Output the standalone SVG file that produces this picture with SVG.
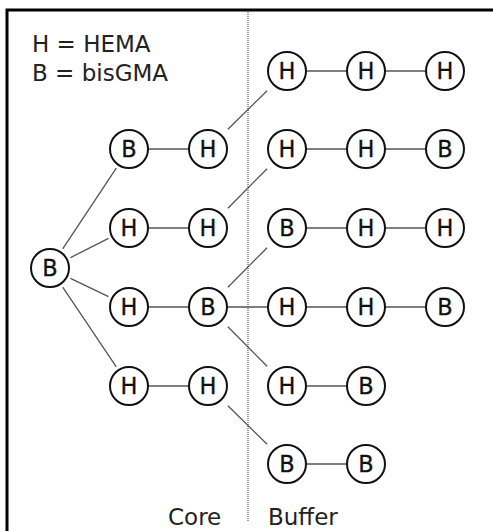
<svg xmlns="http://www.w3.org/2000/svg" width="493" height="531" viewBox="0 0 493 531">
<style>
.n circle{fill:#fff;stroke:#111;stroke-width:2}
.n text{font-family:"DejaVu Sans",sans-serif;font-size:22.5px;fill:#111;text-anchor:middle;stroke:#111;stroke-width:0.3}
.c line{stroke:#555;stroke-width:1.3}
.t{font-family:"DejaVu Sans",sans-serif;font-size:23px;fill:#222}
</style>
<rect width="493" height="531" fill="#fff"/>
<path d="M7,531 V10 H493" fill="none" stroke="#000" stroke-width="3"/>
<line x1="248" y1="12" x2="248" y2="522" stroke="#999" stroke-width="2" stroke-dasharray="1,1"/>
<text class="t" x="32" y="52">H = HEMA</text>
<text class="t" x="32" y="81">B = bisGMA</text>
<text class="t" x="168" y="525">Core</text>
<text class="t" x="268" y="525">Buffer</text>
<g id="connectors" class="c">
<line x1="62.7" y1="248.8" x2="116.3" y2="168.2"/>
<line x1="70.5" y1="257.6" x2="108.5" y2="238.4"/>
<line x1="70.5" y1="278.4" x2="108.5" y2="296.6"/>
<line x1="62.7" y1="287.2" x2="116.3" y2="366.8"/>
<line x1="148" y1="149" x2="189" y2="149"/>
<line x1="148" y1="228" x2="189" y2="228"/>
<line x1="148" y1="307" x2="189" y2="307"/>
<line x1="148" y1="386" x2="189" y2="386"/>
<line x1="227.9" y1="129.3" x2="267.1" y2="90.7"/>
<line x1="227.9" y1="208.3" x2="267.1" y2="168.7"/>
<line x1="227.9" y1="287.3" x2="267.1" y2="247.7"/>
<line x1="227" y1="307" x2="268" y2="307"/>
<line x1="227.9" y1="326.7" x2="267.1" y2="366.3"/>
<line x1="227.9" y1="405.7" x2="267.1" y2="444.3"/>
<line x1="306" y1="71" x2="347" y2="71"/>
<line x1="385" y1="71" x2="426" y2="71"/>
<line x1="306" y1="149" x2="347" y2="149"/>
<line x1="385" y1="149" x2="426" y2="149"/>
<line x1="306" y1="228" x2="347" y2="228"/>
<line x1="385" y1="228" x2="426" y2="228"/>
<line x1="306" y1="307" x2="347" y2="307"/>
<line x1="385" y1="307" x2="426" y2="307"/>
<line x1="306" y1="386" x2="347" y2="386"/>
<line x1="306" y1="464" x2="347" y2="464"/>
</g>
<g id="n0" class="n"><circle cx="50" cy="268" r="19"/><text x="50" y="276">B</text></g>
<g id="n1" class="n"><circle cx="129" cy="149" r="19"/><text x="129" y="157">B</text></g>
<g id="n2" class="n"><circle cx="129" cy="228" r="19"/><text x="129" y="236">H</text></g>
<g id="n3" class="n"><circle cx="129" cy="307" r="19"/><text x="129" y="315">H</text></g>
<g id="n4" class="n"><circle cx="129" cy="386" r="19"/><text x="129" y="394">H</text></g>
<g id="n5" class="n"><circle cx="208" cy="149" r="19"/><text x="208" y="157">H</text></g>
<g id="n6" class="n"><circle cx="208" cy="228" r="19"/><text x="208" y="236">H</text></g>
<g id="n7" class="n"><circle cx="208" cy="307" r="19"/><text x="208" y="315">B</text></g>
<g id="n8" class="n"><circle cx="208" cy="386" r="19"/><text x="208" y="394">H</text></g>
<g id="n9" class="n"><circle cx="287" cy="71" r="19"/><text x="287" y="79">H</text></g>
<g id="n10" class="n"><circle cx="366" cy="71" r="19"/><text x="366" y="79">H</text></g>
<g id="n11" class="n"><circle cx="445" cy="71" r="19"/><text x="445" y="79">H</text></g>
<g id="n12" class="n"><circle cx="287" cy="149" r="19"/><text x="287" y="157">H</text></g>
<g id="n13" class="n"><circle cx="366" cy="149" r="19"/><text x="366" y="157">H</text></g>
<g id="n14" class="n"><circle cx="445" cy="149" r="19"/><text x="445" y="157">B</text></g>
<g id="n15" class="n"><circle cx="287" cy="228" r="19"/><text x="287" y="236">B</text></g>
<g id="n16" class="n"><circle cx="366" cy="228" r="19"/><text x="366" y="236">H</text></g>
<g id="n17" class="n"><circle cx="445" cy="228" r="19"/><text x="445" y="236">H</text></g>
<g id="n18" class="n"><circle cx="287" cy="307" r="19"/><text x="287" y="315">H</text></g>
<g id="n19" class="n"><circle cx="366" cy="307" r="19"/><text x="366" y="315">H</text></g>
<g id="n20" class="n"><circle cx="445" cy="307" r="19"/><text x="445" y="315">B</text></g>
<g id="n21" class="n"><circle cx="287" cy="386" r="19"/><text x="287" y="394">H</text></g>
<g id="n22" class="n"><circle cx="366" cy="386" r="19"/><text x="366" y="394">B</text></g>
<g id="n23" class="n"><circle cx="287" cy="464" r="19"/><text x="287" y="472">B</text></g>
<g id="n24" class="n"><circle cx="366" cy="464" r="19"/><text x="366" y="472">B</text></g>
</svg>
